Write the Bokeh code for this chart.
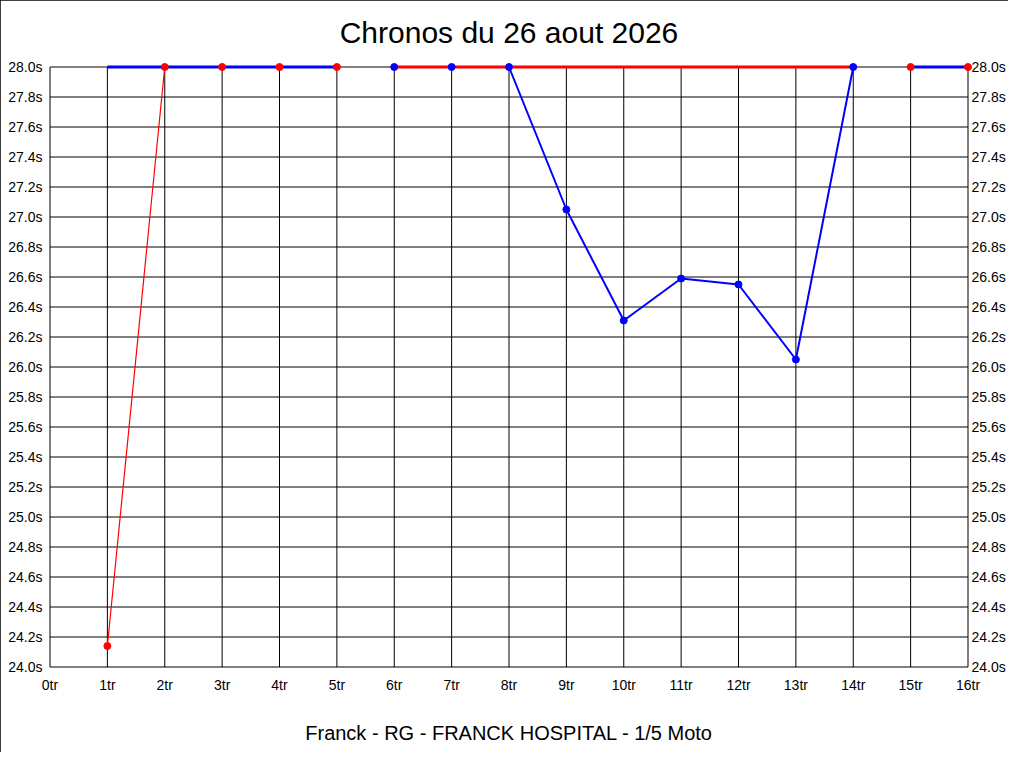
from bokeh.plotting import figure
from bokeh.models import Range1d, LinearAxis, FixedTicker, PrintfTickFormatter
from bokeh.embed import file_html
from bokeh.resources import INLINE

# ---- data ----
title_text = "Chronos du 26 aout 2026"
subtitle_text = "Franck - RG - FRANCK HOSPITAL - 1/5 Moto"

x_ticks = [0, 1, 2, 3, 4, 5, 6, 7, 8, 9, 10, 11, 12, 13, 14, 15, 16]
y_ticks = [24.0, 24.2, 24.4, 24.6, 24.8, 25.0, 25.2, 25.4, 25.6, 25.8,
           26.0, 26.2, 26.4, 26.6, 26.8, 27.0, 27.2, 27.4, 27.6, 27.8, 28.0]

red_laps = [1, 2, 3, 4, 5, 15, 16]
red_times = [24.14, 28.0, 28.0, 28.0, 28.0, 28.0, 28.0]

blue_laps = [6, 7, 8, 9, 10, 11, 12, 13, 14]
blue_times = [28.0, 28.0, 28.0, 27.05, 26.31, 26.59, 26.55, 26.05, 28.0]

# lap ranges where the series is capped at the top of the scale
blue_cap_start = [1, 15]
blue_cap_end = [5, 16]
red_cap_start = [6]
red_cap_end = [14]

RED = "#FF0000"
BLUE = "#0000FF"
FONT = "Liberation Sans"

# ---- layout ----
W, H = 1008, 752
ML, MR, MT, MB = 45, 36, 62, 81
PADX = 4.5
PADY = 4.5
X_MIN, X_MAX = x_ticks[0], x_ticks[-1]
Y_MIN, Y_MAX = y_ticks[0], y_ticks[-1]
fw = W - ML - MR
fh = H - MT - MB
padx = PADX * (X_MAX - X_MIN) / (fw - 2 * PADX)
pady = PADY * (Y_MAX - Y_MIN) / (fh - 2 * PADY)

p = figure(width=W, height=H,
           x_range=Range1d(X_MIN - padx, X_MAX + padx),
           y_range=Range1d(Y_MIN - pady, Y_MAX + pady),
           output_backend="svg", toolbar_location=None,
           min_border_left=ML, min_border_right=MR,
           min_border_top=MT, min_border_bottom=MB)

p.styles = {"outline": "1px solid black", "outline-offset": "-1px"}
p.outline_line_color = None
p.xgrid.visible = False
p.ygrid.visible = False

p.title.text = title_text
p.title.align = "center"
p.title.text_font = FONT
p.title.text_font_size = "30px"
p.title.text_font_style = "normal"
p.title.text_color = "black"
p.title.standoff = 27

right_axis = LinearAxis()
p.add_layout(right_axis, "right")

for ax in p.xaxis:
    ax.ticker = FixedTicker(ticks=x_ticks)
    ax.formatter = PrintfTickFormatter(format="%dtr")
    ax.major_label_standoff = 5
    ax.axis_label = subtitle_text
    ax.axis_label_text_font = FONT
    ax.axis_label_text_font_size = "20px"
    ax.axis_label_text_font_style = "normal"
    ax.axis_label_text_color = "black"
    ax.axis_label_standoff = 26

for ax in p.yaxis:
    ax.ticker = FixedTicker(ticks=y_ticks)
    ax.formatter = PrintfTickFormatter(format="%.1fs")
    ax.major_label_standoff = 3

for ax in list(p.xaxis) + list(p.yaxis):
    ax.axis_line_color = None
    ax.major_tick_line_color = None
    ax.minor_tick_line_color = None
    ax.major_tick_out = 0
    ax.major_tick_in = 0
    ax.major_label_text_font = FONT
    ax.major_label_text_font_size = "14px"
    ax.major_label_text_color = "black"

right_axis.major_label_standoff = -1

# ---- grid (limited to the value range) ----
p.segment(x0=x_ticks, y0=[Y_MIN] * len(x_ticks), x1=x_ticks, y1=[Y_MAX] * len(x_ticks),
          line_color="black", line_width=1)
p.segment(x0=[X_MIN] * len(y_ticks), y0=y_ticks, x1=[X_MAX] * len(y_ticks), y1=y_ticks,
          line_color="black", line_width=1)


def runs(xs, ys):
    out, cx, cy = [], [xs[0]], [ys[0]]
    for i in range(1, len(xs)):
        if xs[i] - xs[i - 1] == 1:
            cx.append(xs[i]); cy.append(ys[i])
        else:
            out.append((cx, cy)); cx, cy = [xs[i]], [ys[i]]
    out.append((cx, cy))
    return out


# series lines
for xs, ys in runs(red_laps, red_times):
    p.line(xs, ys, line_color=RED, line_width=1.2)
for xs, ys in runs(blue_laps, blue_times):
    p.line(xs, ys, line_color=BLUE, line_width=2)

# capped lines at the top of the scale
p.segment(x0=blue_cap_start, y0=[Y_MAX] * len(blue_cap_start), x1=blue_cap_end,
          y1=[Y_MAX] * len(blue_cap_end), line_color=BLUE, line_width=3)
p.segment(x0=red_cap_start, y0=[Y_MAX] * len(red_cap_start), x1=red_cap_end,
          y1=[Y_MAX] * len(red_cap_end), line_color=RED, line_width=3)

# markers
p.scatter(red_laps, red_times, marker="circle", size=7, fill_color=RED, line_color=RED)
p.scatter(blue_laps, blue_times, marker="circle", size=7, fill_color=BLUE, line_color=BLUE)

open("out.html", "w").write(file_html(p, INLINE))
